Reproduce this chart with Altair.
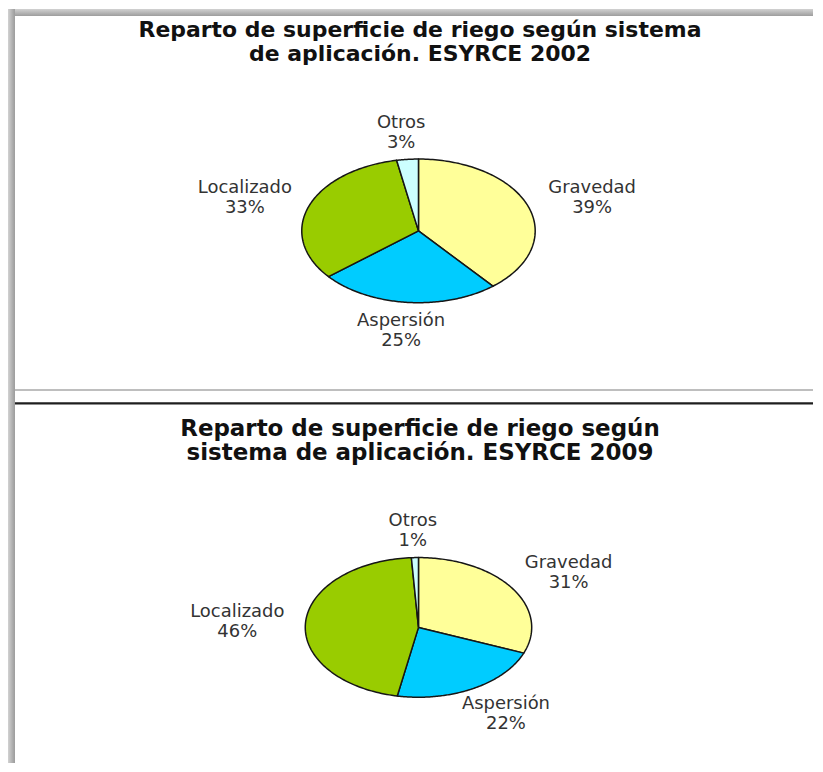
import altair as alt
import pandas as pd

# ---- data ----
categories = ["Gravedad", "Aspersión", "Localizado", "Otros"]
values_2002 = [39, 25, 33, 3]
values_2009 = [31, 22, 46, 1]
colors = ["#FFFF99", "#00CCFF", "#99CC00", "#CCFFFF"]
title_2002 = ["Reparto de superficie de riego según sistema", "de aplicación. ESYRCE 2002"]
title_2009 = ["Reparto de superficie de riego según", "sistema de aplicación. ESYRCE 2009"]

W, H = 807, 756
xs = alt.Scale(domain=[8, 8 + W], nice=False, zero=False)
ys = alt.Scale(domain=[8, 8 + H], nice=False, zero=False, reverse=True)
color_scale = alt.Scale(domain=categories, range=colors)
LABEL_FONT = "DejaVu Sans"
LABEL_SIZE = 18


def pie_layers(values, cx, cy, a, b, la, lb):
    df = pd.DataFrame({"category": categories, "value": values,
                       "idx": list(range(len(categories)))})
    base = (
        alt.Chart(df)
        .transform_joinaggregate(total="sum(value)")
        .transform_window(cum="sum(value)", sort=[alt.SortField("idx")], frame=[None, 0])
        .transform_calculate(
            start="2*PI*(datum.cum - datum.value)/datum.total",
            stop="2*PI*datum.cum/datum.total",
        )
    )
    N = 120
    wedges = (
        base.transform_calculate(k=f"sequence(0, {N + 3})")
        .transform_flatten(["k"])
        .transform_calculate(t=f"clamp((datum.k - 1)/{N}, 0, 1)")
        .transform_calculate(ang="datum.start + datum.t*(datum.stop - datum.start)")
        .transform_calculate(
            px=f"(datum.k == 0 || datum.k == {N + 2}) ? {cx} : {cx} + {a}*sin(datum.ang)",
            py=f"(datum.k == 0 || datum.k == {N + 2}) ? {cy} : {cy} - {b}*cos(datum.ang)",
        )
        .mark_line(strokeWidth=1.5, strokeJoin="round")
        .encode(
            x=alt.X("px:Q", scale=xs, axis=None),
            y=alt.Y("py:Q", scale=ys, axis=None),
            order=alt.Order("k:Q"),
            detail="category:N",
            fill=alt.Fill("category:N", scale=color_scale, legend=None),
            stroke=alt.value("#161616"),
        )
    )
    labels = (
        base.transform_calculate(mid="(datum.start + datum.stop)/2")
        .transform_calculate(
            lx=f"{cx} + {la}*sin(datum.mid)",
            ly=f"{cy} - {lb}*cos(datum.mid)",
            pct="format(datum.value, 'd') + '%'",
        )
    )
    enc = dict(x=alt.X("lx:Q", scale=xs, axis=None), y=alt.Y("ly:Q", scale=ys, axis=None))
    name = labels.mark_text(font=LABEL_FONT, fontSize=LABEL_SIZE, color="#333333",
                            baseline="alphabetic", align="center", dy=-4).encode(
        text="category:N", **enc)
    pct = labels.mark_text(font=LABEL_FONT, fontSize=LABEL_SIZE, color="#333333",
                           baseline="alphabetic", align="center", dy=16).encode(
        text="pct:N", **enc)
    return [wedges, name, pct]


def title_layer(lines, y0, size):
    df = pd.DataFrame({"line": lines, "i": list(range(len(lines)))})
    return (
        alt.Chart(df)
        .transform_calculate(tx="421", ty=f"{y0} + 24*datum.i")
        .mark_text(font="DejaVu Sans", fontWeight="bold", fontSize=size, color="#111111",
                   baseline="alphabetic", align="center")
        .encode(x=alt.X("tx:Q", scale=xs, axis=None),
                y=alt.Y("ty:Q", scale=ys, axis=None),
                text="line:N")
    )


one = pd.DataFrame({"d": [0]})
left_bar = alt.Chart(one).mark_rect(
    color=alt.LinearGradient(gradient="linear",
                             stops=[alt.GradientStop(color="#d2d2d2", offset=0),
                                    alt.GradientStop(color="#9a9a9a", offset=1)],
                             x1=0, x2=1, y1=0, y2=0)
).encode(x=alt.value(0), x2=alt.value(7), y=alt.value(0), y2=alt.value(H))
top_bar = alt.Chart(one).mark_rect(
    color=alt.LinearGradient(gradient="linear",
                             stops=[alt.GradientStop(color="#d2d2d2", offset=0),
                                    alt.GradientStop(color="#9e9e9e", offset=1)],
                             x1=0, x2=0, y1=0, y2=1)
).encode(x=alt.value(7), x2=alt.value(W), y=alt.value(0), y2=alt.value(7))
rule_light = alt.Chart(one).mark_rule(color="#a8a8a8", strokeWidth=1.5).encode(
    x=alt.value(7), x2=alt.value(W), y=alt.value(382))
rule_dark = alt.Chart(one).mark_rule(color="#1e1e1e", strokeWidth=2.2).encode(
    x=alt.value(7), x2=alt.value(W), y=alt.value(395.5))

layers = [left_bar, top_bar, rule_light, rule_dark,
          title_layer(title_2002, 36.5, 22), title_layer(title_2009, 436, 23)]
layers += pie_layers(values_2002, 419.5, 230.5, 117, 72, 185, 100)
layers += pie_layers(values_2009, 419.5, 628, 113.5, 70, 182, 98)

chart = (
    alt.layer(*layers)
    .properties(width=W, height=H, padding=0, background="white")
    .configure_view(stroke=None)
)
chart.save("out.html", embed_options={"renderer": "svg", "actions": False})
